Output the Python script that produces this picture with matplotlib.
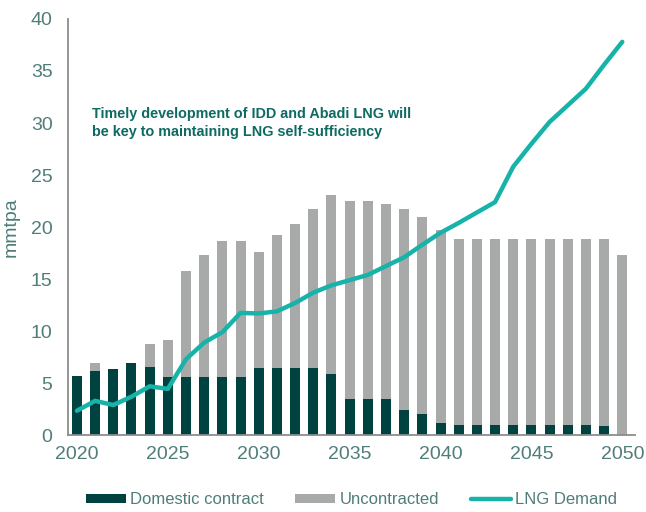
import matplotlib
matplotlib.use("Agg")

import matplotlib.pyplot as plt
import numpy as np

plt.rcParams["font.family"] = ["Liberation Sans", "DejaVu Sans"]

years = list(range(2020, 2051))
domestic = [5.7, 6.2, 6.35, 6.9, 6.6, 5.55, 5.55, 5.55, 5.55, 5.55,
            6.5, 6.5, 6.5, 6.5, 5.85, 3.45, 3.45, 3.45, 2.45, 2.05,
            1.2, 0.95, 0.95, 0.95, 0.95, 0.95, 0.95, 0.95, 0.95, 0.9, 0.0]
total_supply = [5.7, 6.95, 6.35, 6.9, 8.8, 9.15, 15.8, 17.3, 18.7, 18.7,
                17.6, 19.2, 20.25, 21.7, 23.1, 22.5, 22.5, 22.25, 21.75, 21.0,
                19.7, 18.9, 18.9, 18.9, 18.9, 18.9, 18.9, 18.9, 18.9, 18.85, 17.35]
lng_demand = [2.35, 3.3, 2.9, 3.7, 4.7, 4.45, 7.3, 8.9, 9.9, 11.75,
              11.7, 11.9, 12.7, 13.7, 14.4, 14.9, 15.4, 16.25, 17.1, 18.3,
              19.45, 20.4, 21.4, 22.4, 25.8, 28.0, 30.1, 31.7, 33.3, 35.6, 37.8]
uncontracted = [t - d for t, d in zip(total_supply, domestic)]

DARK = "#00423f"
GREY = "#a8aaa9"
TEAL = "#17b3a9"
TXT = "#4f7d7a"

fig = plt.figure(figsize=(6.46, 5.12), dpi=100)
ax = fig.add_axes([0.105, 0.150, 0.878, 0.813])

b1 = ax.bar(years, domestic, width=0.55, color=DARK, label="Domestic contract", zorder=2)
b2 = ax.bar(years, uncontracted, width=0.55, bottom=domestic, color=GREY,
            label="Uncontracted", zorder=2)
ln, = ax.plot(years, lng_demand, color=TEAL, lw=3.2, label="LNG Demand", zorder=3,
              solid_capstyle="round")

ax.set_xlim(2019.5, 2050.7)
ax.set_ylim(0, 40)
ax.set_xticks(range(2020, 2051, 5))
ax.set_yticks(range(0, 41, 5))
ax.tick_params(length=0, labelsize=14, colors=TXT)
ax.tick_params(axis="x", pad=8)
ax.tick_params(axis="y", pad=11)
ax.set_ylabel("mmtpa", fontsize=14, color=TXT, labelpad=8)

for s in ("top", "right"):
    ax.spines[s].set_visible(False)
for s in ("left", "bottom"):
    ax.spines[s].set_color("#8c8c8c")
    ax.spines[s].set_linewidth(1.3)

ax.text(2020.85, 30.0,
        "Timely development of IDD and Abadi LNG will\n"
        "be key to maintaining LNG self-sufficiency",
        fontsize=10.4, fontweight="bold", color="#0d6b63", va="center",
        linespacing=1.45)

fig.legend(handles=[b1, b2, ln], loc="lower center", bbox_to_anchor=(0.544, -0.02),
           ncol=3, frameon=False, fontsize=12, labelcolor=TXT, handlelength=2.4,
           handleheight=0.45, columnspacing=1.9, handletextpad=0.25)

fig.savefig("out.png", dpi=100)
